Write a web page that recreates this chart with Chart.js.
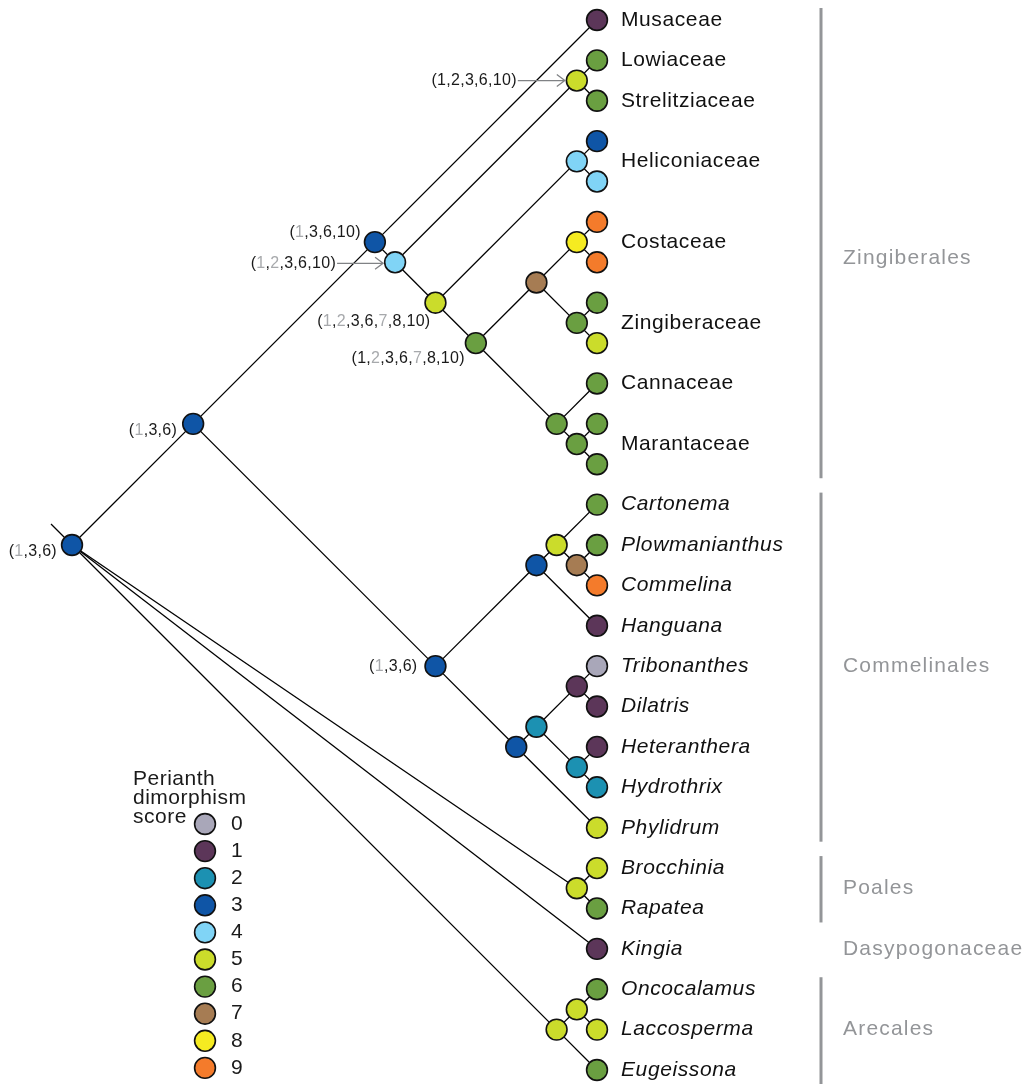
<!DOCTYPE html>
<html><head><meta charset="utf-8">
<script src="https://cdn.jsdelivr.net/npm/chart.js@4/dist/chart.umd.min.js"></script>
<style>html,body{margin:0;padding:0;background:#fff;overflow:hidden}canvas{display:block}</style>
</head><body>
<canvas id="c" width="1029" height="1085"></canvas>
<script>
// ---------------- DATA ----------------
// Tips, top to bottom
const tipNames = ['Musaceae','Lowiaceae','Strelitziaceae','Heliconiaceae','Heliconiaceae','Costaceae','Costaceae',
  'Zingiberaceae','Zingiberaceae','Cannaceae','Marantaceae','Marantaceae',
  'Cartonema','Plowmanianthus','Commelina','Hanguana','Tribonanthes','Dilatris','Heteranthera','Hydrothrix','Phylidrum',
  'Brocchinia','Rapatea','Kingia','Oncocalamus','Laccosperma','Eugeissona'];
const tipRank = ['family','family','family','family','family','family','family','family','family','family','family','family',
  'genus','genus','genus','genus','genus','genus','genus','genus','genus','genus','genus','genus','genus','genus','genus'];
// Perianth dimorphism score at each tip
const tipScores = [1,6,6,3,4,9,9,6,5,6,6,6, 6,6,9,1,0,1,1,2,5, 5,6,1,6,5,6];

// Internal nodes (numbers refer to tips)
const nodeIds = ['root','ZC','Zin','N4','LS','N5','Hel','N6','CZ','Cos','Zgb','CM','Mar',
  'Com','CA','CA1','PC','CB','CB1','TD','HH','Poa','Are','OL'];
const nodeChildren = [
  ['ZC','Poa',23,'Are'],
  ['Zin','Com'],
  [0,'N4'],
  ['LS','N5'],
  [1,2],
  ['Hel','N6'],
  [3,4],
  ['CZ','CM'],
  ['Cos','Zgb'],
  [5,6],
  [7,8],
  [9,'Mar'],
  [10,11],
  ['CA','CB'],
  ['CA1',15],
  [12,'PC'],
  [13,14],
  ['CB1',20],
  ['TD','HH'],
  [16,17],
  [18,19],
  [21,22],
  ['OL',26],
  [24,25]
];
const nodeScores = [3,3,3,4,5,5,4,6,7,8,6,6,6, 3,3,5,7,3,2,1,2,5,5,5];

// Ancestral state annotations ('~' = shown in grey)
const annotNodes  = ['LS','Zin','N4','N5','N6','ZC','root','Com'];
const annotStates = [
  ['1','2','3','6','10'],
  ['~1','3','6','10'],
  ['~1','~2','3','6','10'],
  ['~1','~2','3','6','~7','8','10'],
  ['1','~2','3','6','~7','8','10'],
  ['~1','3','6'],
  ['~1','3','6'],
  ['~1','3','6']
];

// Orders / clade brackets
const cladeNames = ['Zingiberales','Commelinales','Poales','Dasypogonaceae','Arecales'];
const cladeFirstTip = [0,12,21,23,24];
const cladeLastTip  = [11,20,22,23,26];
const cladeHasBar   = [true,true,true,false,true];

// Legend
const legendTitle = ['Perianth','dimorphism','score'];
const legendScores = [0,1,2,3,4,5,6,7,8,9];

// ---------------- STYLE ----------------
const scoreColors = ['#a9a7b9','#5c3659','#1c91b2','#0f55a6','#80d4f6','#cbdc2b','#6a9f41','#a67c53','#f5eb21','#f47b2b'];
const FONT = '"Liberation Sans", Arial, Helvetica, sans-serif';
const U = 1050/26;           // pixels per tree unit (both axes => 45 degree branches)
const TIP_PX = 597, TOP_PX = 20;
const annotStyle = {
  LS:{dx:-60,dy:0,arrow:true}, Zin:{dx:-14,dy:-10}, N4:{dx:-59,dy:1,arrow:true},
  N5:{dx:-5,dy:19}, N6:{dx:-11,dy:16}, ZC:{dx:-16,dy:7}, root:{dx:-15,dy:7}, Com:{dx:-18,dy:0}
};
const cladeLabelDy = {Zingiberales:16};

// ---------------- LAYOUT (slanted cladogram) ----------------
const pos = {};
tipNames.forEach((n,i)=>{ pos[i] = {x:0, y:i}; });
function place(id){
  if (typeof id === 'number') return pos[id];
  const k = nodeIds.indexOf(id);
  const ch = nodeChildren[k].map(place);
  const t = ch[0], b = ch[ch.length-1];
  const x = (t.y + t.x - b.y + b.x)/2;
  const y = t.y + t.x - x;
  pos[id] = {x, y};
  return pos[id];
}
place('root');

const datasets = [];
nodeIds.forEach((id,k)=>{
  nodeChildren[k].forEach(c=>{
    datasets.push({data:[pos[id], pos[c]], showLine:true, pointRadius:0, borderColor:'#000', borderWidth:1.3, order:2, clip:false});
  });
});
// root stub
datasets.push({data:[pos.root, {x:pos.root.x-0.52, y:pos.root.y-0.52}], showLine:true, pointRadius:0, borderColor:'#000', borderWidth:1.3, order:2, clip:false});

const nodePts = [], nodeCols = [];
nodeIds.forEach((id,k)=>{ nodePts.push(pos[id]); nodeCols.push(scoreColors[nodeScores[k]]); });
tipNames.forEach((n,i)=>{ nodePts.push(pos[i]); nodeCols.push(scoreColors[tipScores[i]]); });
datasets.push({data:nodePts, pointRadius:10.4, pointBackgroundColor:nodeCols, pointBorderColor:'#111', pointBorderWidth:1.6, order:0, clip:false});

// ---------------- TEXT PLUGIN ----------------
const textPlugin = {
  id:'tree-text',
  afterDatasetsDraw(chart){
    const ctx = chart.ctx, xs = chart.scales.x, ys = chart.scales.y;
    ctx.save();
    ctx.textBaseline = 'middle';
    // tip labels (consecutive identical names share one label)
    let i = 0;
    while (i < tipNames.length){
      let j = i; while (j+1 < tipNames.length && tipNames[j+1] === tipNames[i]) j++;
      const y = ys.getPixelForValue((i+j)/2);
      const x = xs.getPixelForValue(0) + 24;
      ctx.font = (tipRank[i]==='genus' ? 'italic ' : '') + '21px ' + FONT;
      ctx.letterSpacing = '0.6px';
      ctx.fillStyle = '#111';
      ctx.textAlign = 'left';
      ctx.fillText(tipNames[i], x, y);
      i = j+1;
    }
    // clade bars and names
    const barX = xs.getPixelForValue(0) + 224;
    cladeNames.forEach((name,k)=>{
      const y0 = ys.getPixelForValue(cladeFirstTip[k]) - 12;
      const y1 = ys.getPixelForValue(cladeLastTip[k]) + 14;
      if (cladeHasBar[k]){
        ctx.fillStyle = '#939598';
        ctx.fillRect(barX - 1.5, y0, 3, y1 - y0);
      }
      const ym = ys.getPixelForValue((cladeFirstTip[k]+cladeLastTip[k])/2) + (cladeLabelDy[name]||0);
      ctx.font = '21px ' + FONT;
      ctx.letterSpacing = '1.2px';
      ctx.fillStyle = '#939598';
      ctx.fillText(name, barX + 22, ym);
    });
    // annotations
    ctx.font = '16px ' + FONT;
    ctx.letterSpacing = '0.3px';
    annotNodes.forEach((id,k)=>{
      const st = annotStyle[id];
      const cx = xs.getPixelForValue(pos[id].x), cy = ys.getPixelForValue(pos[id].y);
      const segs = [['(', false]];
      annotStates[k].forEach((s,m)=>{
        if (m>0) segs.push([',', false]);
        segs.push([s.replace('~',''), s[0]==='~']);
      });
      segs.push([')', false]);
      const w = segs.reduce((a,s)=>a+ctx.measureText(s[0]).width, 0);
      const right = cx + st.dx, ty = cy + st.dy;
      let x = right - w;
      ctx.textAlign = 'left';
      segs.forEach(s=>{
        ctx.fillStyle = s[1] ? '#a7a9ac' : '#1a1a1a';
        ctx.fillText(s[0], x, ty);
        x += ctx.measureText(s[0]).width;
      });
      if (st.arrow){
        const ax0 = right + 1, ax1 = cx - 12;
        ctx.strokeStyle = '#808285'; ctx.lineWidth = 1.3;
        ctx.beginPath(); ctx.moveTo(ax0, ty); ctx.lineTo(ax1, ty);
        ctx.moveTo(ax1 - 8, ty - 6); ctx.lineTo(ax1, ty); ctx.lineTo(ax1 - 8, ty + 6);
        ctx.stroke();
      }
    });
    // legend
    ctx.fillStyle = '#1a1a1a';
    ctx.font = '21px ' + FONT;
    ctx.letterSpacing = '0.5px';
    ctx.textBaseline = 'alphabetic';
    legendTitle.forEach((t,k)=>{ ctx.fillText(t, 133, 785 + 19*k); });
    ctx.textBaseline = 'middle';
    legendScores.forEach((s,k)=>{
      const y = 824 + 27.1*k;
      ctx.beginPath(); ctx.arc(205, y, 10.4, 0, Math.PI*2);
      ctx.fillStyle = scoreColors[s]; ctx.fill();
      ctx.lineWidth = 1.6; ctx.strokeStyle = '#111'; ctx.stroke();
      ctx.fillStyle = '#1a1a1a';
      ctx.fillText(String(s), 231, y);
    });
    ctx.restore();
  }
};

new Chart(document.getElementById('c'), {
  type:'scatter',
  data:{datasets},
  options:{
    responsive:false, animation:false, events:[],
    layout:{padding:0, autoPadding:false},
    plugins:{legend:{display:false}, tooltip:{enabled:false}},
    scales:{
      x:{display:false, min:-TIP_PX/U, max:(1029-TIP_PX)/U},
      y:{display:false, reverse:true, min:-TOP_PX/U, max:(1085-TOP_PX)/U}
    }
  },
  plugins:[textPlugin]
});
</script>
</body></html>
